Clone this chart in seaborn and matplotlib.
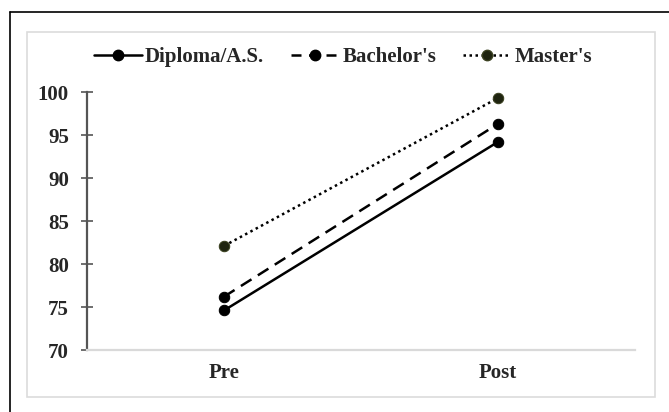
import matplotlib
matplotlib.use("Agg")
import matplotlib.pyplot as plt
from matplotlib.patches import Rectangle
from matplotlib.lines import Line2D
import seaborn as sns
import pandas as pd

# Mean scores before and after, by highest degree
times = ["Pre", "Post"]
groups = ["Diploma/A.S.", "Bachelor's", "Master's"]
diploma = [74.6, 94.2]
bachelor = [76.2, 96.3]
master = [82.1, 99.3]
y_ticks = [70, 75, 80, 85, 90, 95, 100]

df = pd.DataFrame({
    "time": times * 3,
    "score": diploma + bachelor + master,
    "group": [g for g in groups for _ in times],
})

sns.set_theme(style="white")
plt.rcParams["font.family"] = ["Liberation Serif", "DejaVu Serif"]
plt.rcParams["font.weight"] = "bold"

W, H = 669, 412
fig = plt.figure(figsize=(W / 100, H / 100), dpi=100)
fig.patch.set_facecolor("white")

# outer frame (left and top edges) and light inner panel
fig.add_artist(Line2D([10 / W, 10 / W], [0, 1 - 12 / H], transform=fig.transFigure,
                      color="black", lw=1.2))
fig.add_artist(Line2D([10 / W, 1], [1 - 12 / H, 1 - 12 / H], transform=fig.transFigure,
                      color="black", lw=1.2))
fig.add_artist(Rectangle((27 / W, 1 - 397 / H), (655 - 27) / W, (397 - 32) / H,
                         transform=fig.transFigure, fill=False, edgecolor="#dcdcdc", lw=1.2))

ax = fig.add_axes([87 / W, 1 - 350 / H, (635 - 87) / W, (350 - 92) / H])

palette = {"Diploma/A.S.": "black", "Bachelor's": "black", "Master's": "black"}
dashes = {"Diploma/A.S.": "", "Bachelor's": (5, 3), "Master's": (1, 1.4)}
markers = {"Diploma/A.S.": "o", "Bachelor's": "o", "Master's": "o"}

sns.lineplot(data=df, x="time", y="score", hue="group", style="group",
             palette=palette, dashes=dashes, markers=markers, markersize=7.5,
             linewidth=1.8, ax=ax, sort=False, legend=False)

# olive-tinted marker for the Master's group
for ln in ax.get_lines():
    ln.set_markeredgecolor("black")
ax.get_lines()[2].set_markerfacecolor("#1f2410")
ax.get_lines()[2].set_markeredgecolor("#3a4020")

ax.set_xlim(-0.5, 1.5)
ax.set_ylim(70, 100)
ax.set_yticks(y_ticks)
ax.set_yticklabels([str(t) for t in y_ticks], fontsize=15, fontweight="bold")
ax.set_xticks([0, 1])
ax.set_xticklabels(times, fontsize=15, fontweight="bold")
ax.set_xlabel("")
ax.set_ylabel("")

for s in ["top", "right"]:
    ax.spines[s].set_visible(False)
ax.spines["left"].set_color("#555555")
ax.spines["left"].set_linewidth(1.6)
ax.spines["bottom"].set_color("#d9d9d9")
ax.spines["bottom"].set_linewidth(1.6)
ax.tick_params(axis="y", direction="inout", length=8, width=1.2, color="#555555",
               pad=9, left=True)
ax.tick_params(axis="x", length=0, pad=9)

handles = [
    Line2D([], [], color="black", lw=1.8, marker="o", markersize=7.5),
    Line2D([], [], color="black", lw=1.8, ls=(0, (4, 3)), marker="o", markersize=7.5),
    Line2D([], [], color="black", lw=1.8, ls=(0, (1, 1.4)), marker="o", markersize=7.5,
           markerfacecolor="#1f2410", markeredgecolor="#3a4020"),
]
fig.legend(handles, groups, loc="center", bbox_to_anchor=(343 / W, 1 - 57 / H),
           ncol=3, frameon=False, handlelength=2.3, columnspacing=1.3,
           handletextpad=0.15, prop={"size": 15, "weight": "bold"})

fig.savefig("out.png", dpi=100, facecolor="white")
